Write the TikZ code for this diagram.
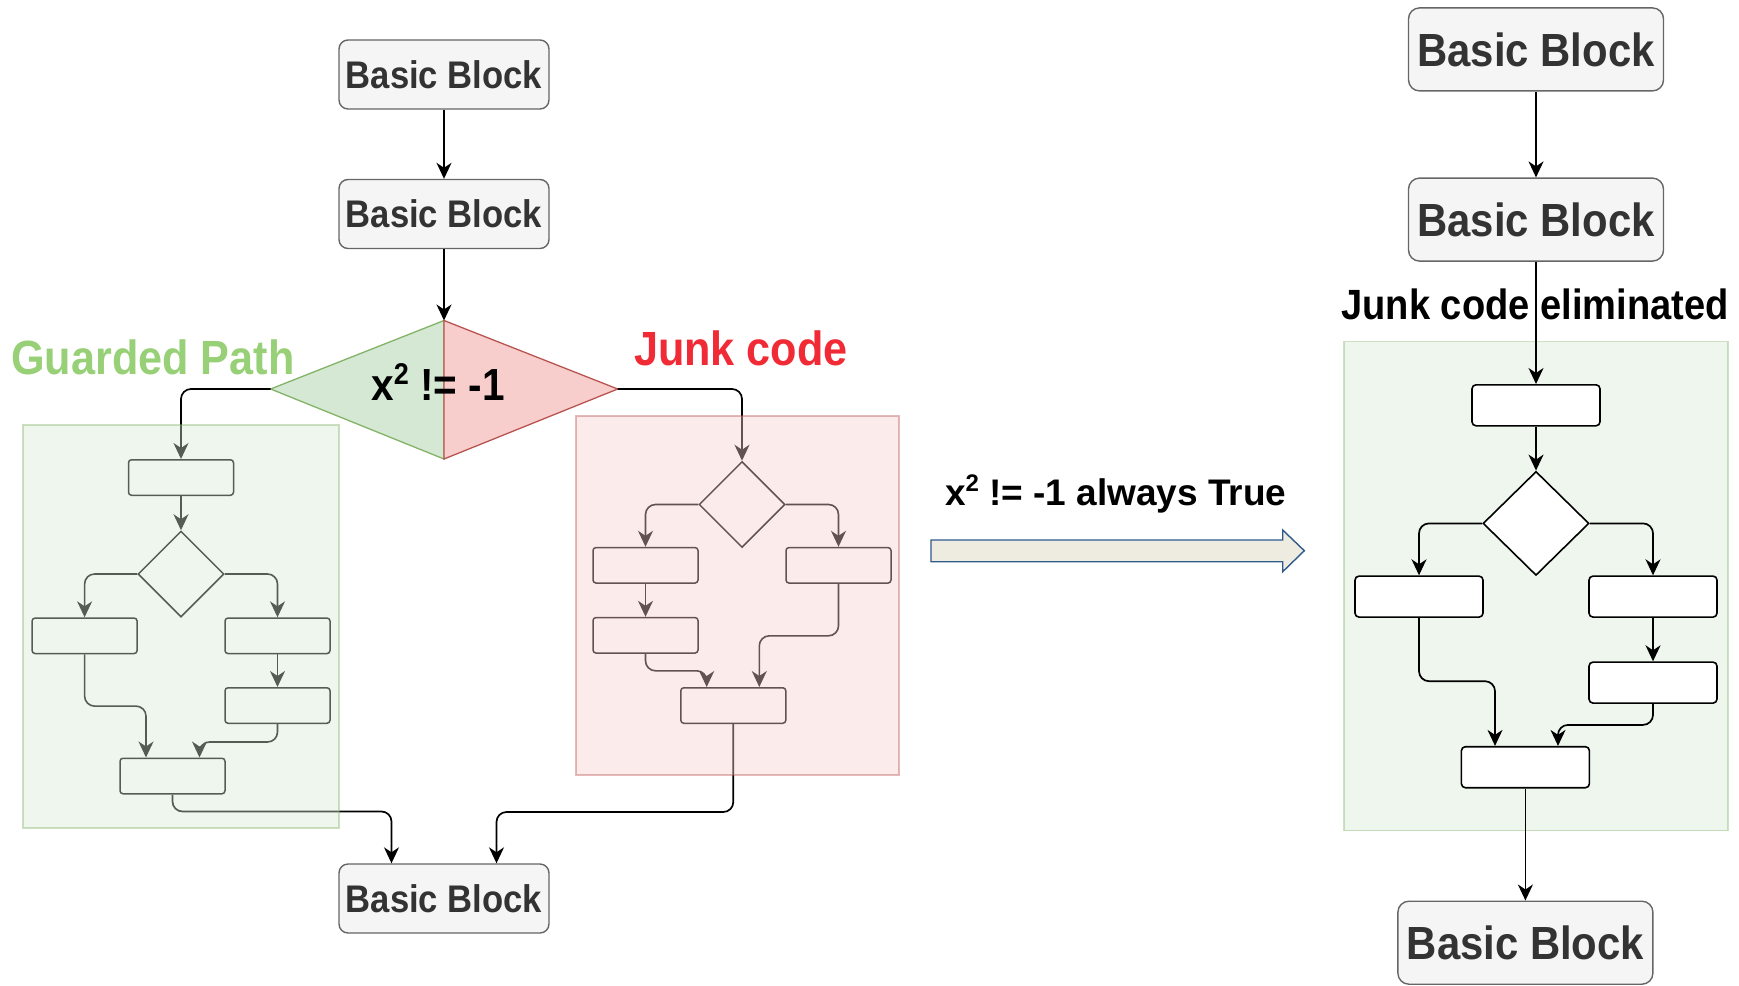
\documentclass[tikz,border=0pt]{standalone}
\usepackage{fontspec}
\setmainfont{Liberation Sans}
\newfontfamily\nsans[FakeStretch=0.9]{Liberation Sans}
\usetikzlibrary{arrows.meta,shapes.geometric}

\definecolor{bbfill}{HTML}{F5F5F5}
\definecolor{bbline}{HTML}{666666}
\definecolor{bbtext}{HTML}{333333}
\definecolor{gfill}{HTML}{D5E8D4}
\definecolor{gline}{HTML}{82B366}
\definecolor{rfill}{HTML}{F8CECC}
\definecolor{rline}{HTML}{B85450}
\definecolor{gtitle}{HTML}{97D077}
\definecolor{rtitle}{HTML}{F02B36}
\definecolor{arrfill}{HTML}{EEECE1}
\definecolor{arrline}{HTML}{2F5A8C}

% raised, reduced "2" for the square
\newcommand{\sqtwo}[1]{\raisebox{0.36em}{\fontsize{#1}{#1}\selectfont 2}}

\tikzset{
  bblock/.style={draw=bbline, fill=bbfill, line width=1.4pt, rounded corners=9pt,
    text=bbtext, inner sep=0pt, minimum width=210pt, minimum height=69pt,
    font=\nsans\bfseries\fontsize{38.5}{40}\selectfont},
  bblockR/.style={bblock, rounded corners=11pt, minimum width=255pt, minimum height=83pt,
    font=\nsans\bfseries\fontsize{46.5}{48}\selectfont},
  cell/.style={draw=black, line width=1.5pt, rounded corners=3pt,
    minimum width=105pt, minimum height=35.5pt, inner sep=0pt},
  cellR/.style={draw=black, fill=white, line width=1.6pt, rounded corners=4pt,
    minimum width=128pt, minimum height=41pt, inner sep=0pt},
  dec/.style={diamond, draw=black, line width=1.5pt, inner sep=0pt,
    minimum width=86pt, minimum height=86pt},
  decR/.style={dec, fill=white, line width=1.6pt, minimum width=106pt, minimum height=104pt},
  conn/.style={line width=1.7pt, rounded corners=10pt,
    -{Stealth[length=16pt,width=15pt,inset=5pt]}},
  iconn/.style={line width=1.6pt, rounded corners=10pt,
    -{Stealth[length=16pt,width=15pt,inset=5pt]}},
  title/.style={font=\nsans\bfseries\fontsize{48}{50}\selectfont, inner sep=0pt},
}

\begin{document}
\begin{tikzpicture}[x=1pt,y=-1pt]
\useasboundingbox (0,0) rectangle (1739,985);

% ---------------- left: original control flow ----------------
\node[bblock] (bb1) at (444,74.5) {Basic Block};
\node[bblock] (bb2) at (444,214) {Basic Block};
\node[bblock] (bb3) at (444,898.5) {Basic Block};

% opaque predicate, split into the guarded half and the junk half
\coordinate (cT) at (444,320.5);
\coordinate (cB) at (444,459);
\coordinate (cL) at (270.6,389);
\coordinate (cR) at (617.7,389);
\draw[draw=gline, fill=gfill, line width=1.3pt] (cT) -- (cL) -- (cB) -- cycle;
\draw[draw=rline, fill=rfill, line width=1.3pt] (cT) -- (cR) -- (cB) -- cycle;
\node[font=\nsans\bfseries\fontsize{45}{47}\selectfont, inner sep=0pt] (cond) at (438,382)
  {x\sqtwo{30} != -1};

\node[title, text=gtitle] (gtl) at (153,357) {Guarded Path};
\node[title, text=rtitle] (jtl) at (741,348) {Junk code};

\draw[conn] (bb1) -- (bb2);
\draw[conn] (bb2) -- (cT);

% guarded path body
\node[cell] (gA) at (181,477.5) {};
\node[dec]  (gD) at (181,574) {};
\node[cell] (gB) at (84.6,635.8) {};
\node[cell] (gC) at (277.5,635.8) {};
\node[cell] (gDd) at (277.5,705.5) {};
\node[cell] (gE) at (172.5,776) {};

\draw[conn] (cL) -| (gA.north);
\draw[iconn] (gA) -- (gD);
\draw[iconn] (gD.west) -| (gB.north);
\draw[iconn] (gD.east) -| (gC.north);
\draw[iconn] (gC) -- (gDd);
\draw[iconn] (gB.south) -- ++(0,51.8) -| ([xshift=-26.5pt]gE.north);
\draw[iconn] (gDd.south) -- ++(0,18) -| ([xshift=27pt]gE.north);
\draw[conn] (gE.south) -- ++(0,17) -| ([xshift=-52.5pt]bb3.north);

% junk code body
\node[dec]  (jD) at (742,504.5) {};
\node[cell] (jB) at (645.5,565.3) {};
\node[cell] (jC) at (838.5,565.3) {};
\node[cell] (jDd) at (645.5,635.3) {};
\node[cell] (jE) at (733.3,705.5) {};

\draw[conn] (cR) -| (jD.north);
\draw[iconn] (jD.west) -| (jB.north);
\draw[iconn] (jD.east) -| (jC.north);
\draw[iconn] (jB) -- (jDd);
\draw[iconn] (jDd.south) -- ++(0,17) -| ([xshift=-26.6pt]jE.north);
\draw[iconn] (jC.south) -- ++(0,52) -| ([xshift=26pt]jE.north);
\draw[conn] (jE.south) -- ++(0,88) -| ([xshift=52.5pt]bb3.north);

% translucent regions laid over both bodies
\draw[draw=gline, fill=gfill, opacity=0.4, line width=1.5pt] (23,425) rectangle (339,828);
\draw[draw=rline, fill=rfill, opacity=0.4, line width=1.5pt] (576,416) rectangle (899,775);

% ---------------- middle: transformation arrow ----------------
\node[font=\bfseries\fontsize{37}{40}\selectfont, inner sep=0pt] (always) at (1115.7,494)
  {x\sqtwo{24} != -1 always True};
\draw[draw=arrline, fill=arrfill, line width=1.4pt, line join=miter]
  (931,540) -- (1282.7,540) -- (1282.7,530) -- (1304.3,550.7) -- (1282.7,571.7)
  -- (1282.7,561.7) -- (931,561.7) -- cycle;

% ---------------- right: simplified control flow ----------------
\draw[draw=gline, fill=gfill, opacity=0.4, line width=1.5pt] (1344,341.6) rectangle (1728,830.7);

\node[bblockR] (rb1) at (1536,49.4) {Basic Block};
\node[bblockR] (rb2) at (1536,219.6) {Basic Block};
\node[bblockR] (rb3) at (1525.4,942.7) {Basic Block};
\node[font=\nsans\bfseries\fontsize{42.3}{44}\selectfont, inner sep=0pt] (elim) at (1535,304)
  {Junk code eliminated};

\node[cellR] (rA) at (1536,405.3) {};
\node[decR]  (rD) at (1536,523.4) {};
\node[cellR] (rB) at (1419,596.6) {};
\node[cellR] (rC) at (1653,596.6) {};
\node[cellR] (rDd) at (1653,682.6) {};
\node[cellR] (rE) at (1525.4,767.2) {};

\draw[conn] (rb1) -- (rb2);
\draw[conn] (rb2) -- (rA);
\draw[conn] (rA) -- (rD);
\draw[conn] (rD.west) -| (rB.north);
\draw[conn] (rD.east) -| (rC.north);
\draw[conn] (rC) -- (rDd);
\draw[conn] (rB.south) -- ++(0,63.3) -| ([xshift=-30.4pt]rE.north);
\draw[conn] (rDd.south) -- ++(0,21) -| ([xshift=32.6pt]rE.north);
\draw[conn] (rE) -- (rb3);
\end{tikzpicture}
\end{document}
